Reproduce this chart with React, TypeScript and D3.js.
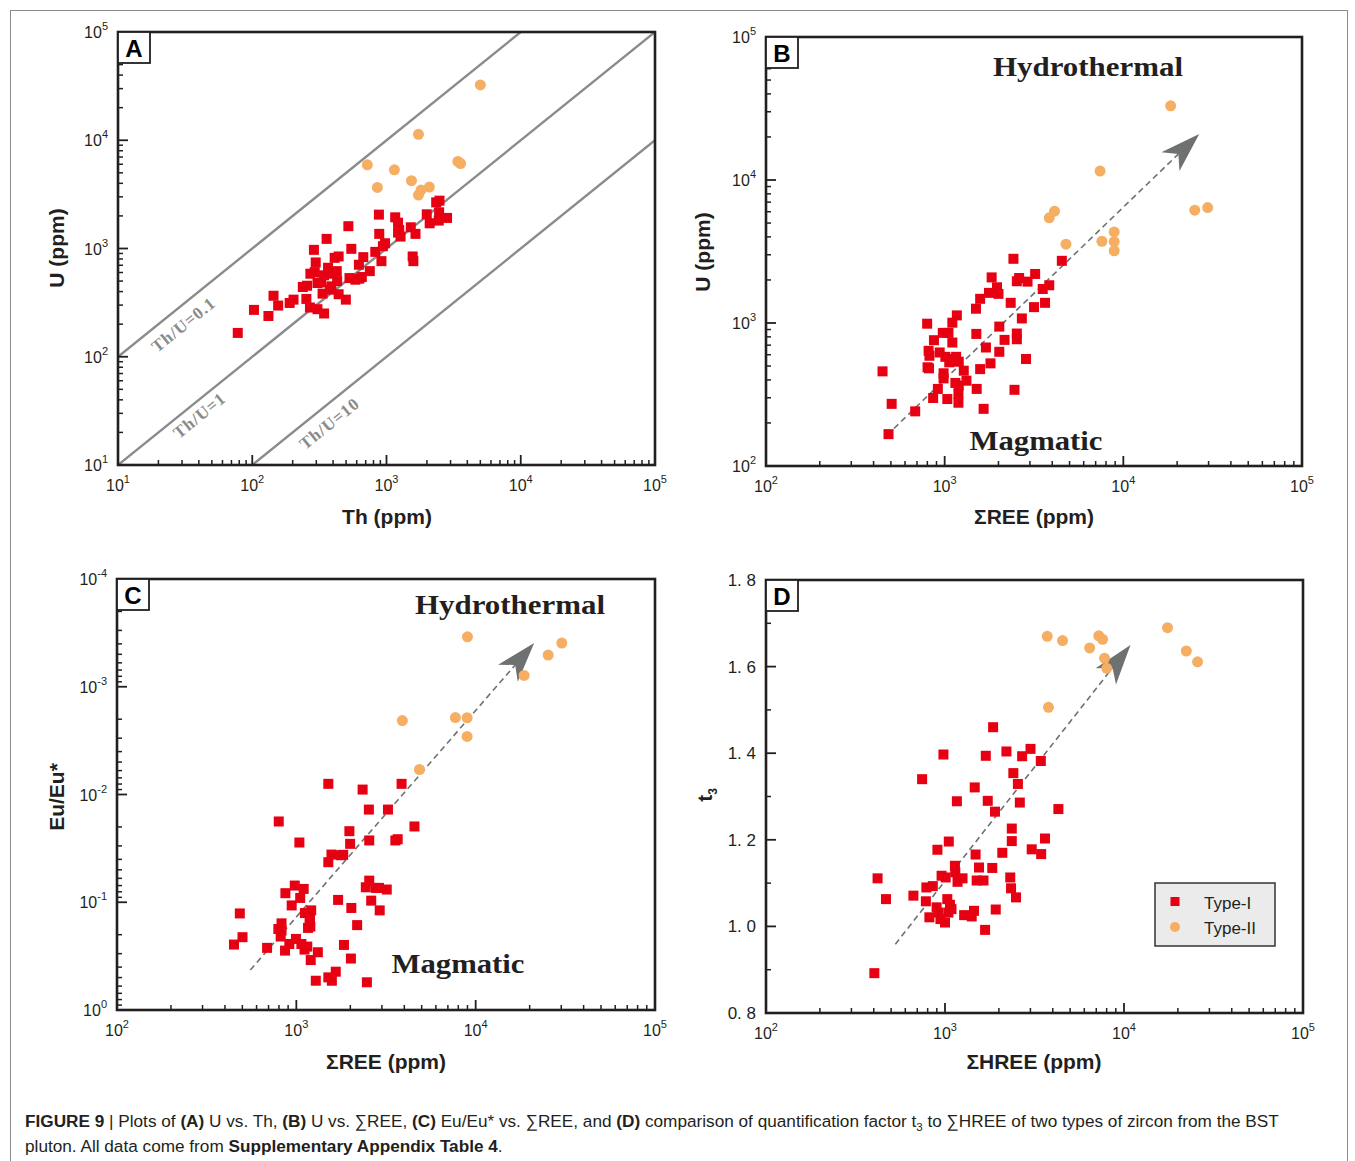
import React from "react";
import * as d3 from "d3";

type Pt = [number, number];

const RED = "#e60012";
const ORANGE = "#f5ae62";
const INK = "#231f20";
const GUIDE = "#8b8b8b";
const ARROW = "#6f7070";

// ---------- Panel A: U vs Th ----------
const thUType1: Pt[] = [
  [78, 166], [103, 271], [132, 238], [144, 366], [156, 297], [190, 314], [203, 337], [238, 441],
  [256, 453], [253, 342], [269, 285], [271, 585], [288, 972], [297, 743], [292, 605], [306, 480],
  [306, 275], [343, 251], [334, 383], [326, 486], [343, 565], [358, 1227], [367, 664], [379, 417],
  [388, 447], [403, 585], [411, 820], [429, 500], [440, 844], [426, 618], [440, 378], [498, 337],
  [520, 1607], [530, 533], [547, 993], [586, 515], [627, 526], [623, 708], [655, 545], [672, 832],
  [751, 618], [825, 931], [878, 2056], [883, 1365], [917, 764], [940, 1050], [976, 1118], [1161, 1941],
  [1219, 1733], [1244, 1485], [1219, 1403], [1273, 1289], [1516, 1571], [1566, 844], [1585, 764],
  [1644, 1365], [1995, 2070], [2098, 1710], [2345, 2667], [2481, 2767], [2466, 2159], [2449, 1811],
  [2825, 1916],
];
const thUType2: Pt[] = [
  [5000, 32400], [1730, 11350], [720, 5930], [1145, 5330], [3400, 6370], [3560, 6100],
  [1535, 4230], [855, 3665], [2085, 3690], [1807, 3465], [1730, 3120],
];
const thURatios = [0.1, 1, 10];
const thULabelText = ["Th/U=0.1", "Th/U=1", "Th/U=10"];
const thULabelAt: Pt[] = [[31, 196], [40.8, 28.4], [379, 23.9]];

// ---------- Panel B: U vs ΣREE ----------
const reeUType1: Pt[] = [
  [449, 459], [505, 272], [485, 167], [684, 241], [798, 989], [813, 639], [822, 590], [802, 490],
  [817, 482], [871, 758], [862, 299], [916, 346], [938, 622], [976, 853], [986, 445], [986, 410],
  [1009, 580], [1050, 853], [1035, 294], [1061, 531], [1104, 730], [1104, 1005], [1125, 560],
  [1159, 580], [1170, 1130], [1148, 381], [1199, 536], [1199, 365], [1194, 320], [1194, 277],
  [1279, 464], [1324, 395], [1497, 1259], [1504, 839], [1511, 346], [1580, 1476], [1580, 476],
  [1652, 251], [1702, 674], [1770, 1625], [1805, 522], [1832, 2084], [1963, 1778], [2001, 1599],
  [2022, 944], [2022, 629], [2164, 762], [2342, 1384], [2426, 2812], [2535, 1959], [2535, 844],
  [2535, 770], [2459, 341], [2611, 2063], [2704, 1076], [2853, 560], [2909, 1947], [3164, 1291],
  [3209, 2203], [3540, 1729], [3646, 1384], [3849, 1836], [4527, 2722],
];
const reeUType2: Pt[] = [
  [18400, 33000], [7410, 11550], [4120, 6050], [3849, 5440], [4775, 3555], [7585, 3730],
  [8890, 4330], [8890, 3705], [8890, 3200], [25100, 6150], [29650, 6420],
];
const reeUArrow: Pt[] = [[520, 183], [26600, 21000]];

// ---------- Panel C: Eu/Eu* vs ΣREE ----------
const reeEuType1: Pt[] = [
  [449, 0.247], [484, 0.127], [501, 0.211], [687, 0.265], [798, 0.0178], [794, 0.177], [818, 0.208],
  [827, 0.157], [827, 0.183], [869, 0.0824], [865, 0.281], [914, 0.244], [942, 0.107], [980, 0.07],
  [995, 0.219], [1040, 0.0279], [1051, 0.0912], [1067, 0.244], [1099, 0.0752], [1116, 0.126],
  [1111, 0.275], [1151, 0.258], [1162, 0.173], [1186, 0.156], [1191, 0.145], [1197, 0.168],
  [1210, 0.119], [1203, 0.344], [1284, 0.535], [1318, 0.291], [1508, 0.00796], [1508, 0.0425],
  [1508, 0.498], [1570, 0.0361], [1578, 0.535], [1659, 0.441], [1710, 0.0951], [1771, 0.0366],
  [1825, 0.0363], [1843, 0.249], [1976, 0.0219], [1995, 0.0287], [2026, 0.113], [2015, 0.333],
  [2183, 0.163], [2342, 0.009], [2440, 0.0726], [2538, 0.0138], [2550, 0.0267], [2550, 0.063],
  [2615, 0.0966], [2474, 0.553], [2775, 0.0736], [2917, 0.119], [2890, 0.0736], [3193, 0.0762],
  [3243, 0.0138], [3566, 0.0267], [3675, 0.026], [3863, 0.00796], [4557, 0.0198],
];
const reeEuType2: Pt[] = [
  [3900, 0.00206], [7710, 0.00193], [8960, 0.00194], [8960, 0.00289], [9000, 0.000344],
  [4860, 0.00586], [18620, 0.000785], [25370, 0.000508], [30220, 0.000393],
];
const reeEuArrow: Pt[] = [[554, 0.425], [21200, 0.000393]];

// ---------- Panel D: t3 vs ΣHREE ----------
const hreeT3Type1: Pt[] = [
  [403, 0.892], [420, 1.111], [468, 1.063], [666, 1.071], [745, 1.34], [782, 1.058], [787, 1.09],
  [818, 1.021], [855, 1.093], [907, 1.177], [898, 1.044], [920, 1.032], [943, 1.017], [957, 1.117],
  [980, 1.397], [1000, 1.009], [1009, 1.113], [1030, 1.063], [1045, 1.032], [1050, 1.196],
  [1066, 1.05], [1087, 1.04], [1136, 1.14], [1142, 1.125], [1165, 1.289], [1175, 1.103],
  [1253, 1.111], [1279, 1.026], [1410, 1.023], [1452, 1.036], [1466, 1.321], [1482, 1.166],
  [1503, 1.106], [1549, 1.136], [1641, 1.106], [1690, 1.394], [1733, 1.29], [1675, 0.992],
  [1837, 1.135], [1857, 1.46], [1902, 1.265], [1921, 1.039], [2090, 1.17], [2204, 1.404],
  [2315, 1.113], [2361, 1.226], [2361, 1.197], [2339, 1.088], [2409, 1.354], [2493, 1.067],
  [2554, 1.329], [2618, 1.286], [2697, 1.393], [3004, 1.41], [3051, 1.178], [3430, 1.382],
  [3446, 1.167], [3620, 1.203], [4300, 1.271],
];
const hreeT3Type2: Pt[] = [
  [3725, 1.67], [4536, 1.66], [6430, 1.643], [7230, 1.671], [7595, 1.663], [7785, 1.619],
  [8010, 1.596], [3785, 1.506], [17500, 1.69], [22290, 1.636], [25760, 1.611],
];
const hreeT3Arrow: Pt[] = [[528, 0.959], [10870, 1.65]];
const t3TickValues = [0.8, 1.0, 1.2, 1.4, 1.6, 1.8];
const t3TickLabels = ["0. 8", "1. 0", "1. 2", "1. 4", "1. 6", "1. 8"];
const t3MinorValues = [0.9, 1.1, 1.3, 1.5, 1.7];
const legendLabels = ["Type-I", "Type-II"];

// ---------- helpers ----------
const logMinor = (lo: number, hi: number) => {
  const out: number[] = [];
  for (let d = lo; d < hi; d++) for (let k = 2; k <= 9; k++) out.push(k * Math.pow(10, d));
  return out;
};
const pow10Label = (e: number) => (
  <>
    <tspan>10</tspan>
    <tspan dy={-8} fontSize={11}>{e}</tspan>
  </>
);
const range = (a: number, b: number) => d3.range(a, b + 1);

type Tick = { v: number; label: React.ReactNode };

function Frame(props: {
  x: any; y: any; x0: number; x1: number; y0: number; y1: number;
  xTicks: Tick[]; yTicks: Tick[]; xMinor: number[]; yMinor: number[];
  letter: string; yLabelSize?: number;
}) {
  const { x, y, x0, x1, y0, y1, xTicks, yTicks, xMinor, yMinor, letter } = props;
  const fs = props.yLabelSize || 16;
  return (
    <g>
      {xMinor.map((v, i) => (
        <line key={"xm" + i} x1={x(v)} x2={x(v)} y1={y1} y2={y1 - 5} stroke={INK} strokeWidth={1.5} />
      ))}
      {xTicks.map((t, i) => (
        <line key={"xt" + i} x1={x(t.v)} x2={x(t.v)} y1={y1} y2={y1 - 10} stroke={INK} strokeWidth={1.8} />
      ))}
      {yMinor.map((v, i) => (
        <line key={"ym" + i} x1={x0} x2={x0 + 5} y1={y(v)} y2={y(v)} stroke={INK} strokeWidth={1.5} />
      ))}
      {yTicks.map((t, i) => (
        <line key={"yt" + i} x1={x0} x2={x0 + 10} y1={y(t.v)} y2={y(t.v)} stroke={INK} strokeWidth={1.8} />
      ))}
      <rect x={x0} y={y0} width={x1 - x0} height={y1 - y0} fill="none" stroke={INK} strokeWidth={2.6} />
      {xTicks.map((t, i) => (
        <text key={"xl" + i} x={x(t.v)} y={y1 + 26} textAnchor="middle" fontFamily="Liberation Sans, Arial, sans-serif" fontSize={16} fill={INK}>
          {t.label}
        </text>
      ))}
      {yTicks.map((t, i) => (
        <text key={"yl" + i} x={x0 - 10} y={y(t.v) + 6} textAnchor="end" fontFamily="Liberation Sans, Arial, sans-serif" fontSize={fs} fill={INK}>
          {t.label}
        </text>
      ))}
      <rect x={x0} y={y0} width={32} height={31} fill="#fff" stroke={INK} strokeWidth={1.8} />
      <text x={x0 + 16} y={y0 + 25} textAnchor="middle" fontFamily="Liberation Sans, Arial, sans-serif" fontWeight="bold" fontSize={24} fill="#000">
        {letter}
      </text>
    </g>
  );
}

function Marks({ x, y, sq, ci }: { x: any; y: any; sq: Pt[]; ci: Pt[] }) {
  return (
    <g>
      {sq.map((d, i) => (
        <rect key={"s" + i} x={x(d[0]) - 5} y={y(d[1]) - 5} width={10} height={10} fill={RED} />
      ))}
      {ci.map((d, i) => (
        <circle key={"c" + i} cx={x(d[0])} cy={y(d[1])} r={5.5} fill={ORANGE} />
      ))}
    </g>
  );
}

function TrendArrow({ x, y, pts }: { x: any; y: any; pts: Pt[] }) {
  const sx = x(pts[0][0]), sy = y(pts[0][1]);
  const ex = x(pts[1][0]), ey = y(pts[1][1]);
  const ang = Math.atan2(ey - sy, ex - sx);
  const L = 40, W = 13, N = 29;
  const ux = Math.cos(ang), uy = Math.sin(ang);
  const px = -uy, py = ux;
  const nx = ex - ux * N, ny = ey - uy * N;
  const bx = ex - ux * L, by = ey - uy * L;
  const head = `M${ex},${ey} L${bx + px * W},${by + py * W} L${nx},${ny} L${bx - px * W},${by - py * W} Z`;
  return (
    <g>
      <line x1={sx} y1={sy} x2={nx} y2={ny} stroke={ARROW} strokeWidth={1.6} strokeDasharray="6,4" />
      <path d={head} fill={ARROW} />
    </g>
  );
}

const serifTitle = { fontFamily: "Liberation Serif, Times New Roman, serif", fontWeight: "bold" as const, fontSize: 27, fill: INK };
const axisTitle = { fontFamily: "Liberation Sans, Arial, sans-serif", fontWeight: "bold" as const, fontSize: 21, fill: INK };
const captionFont = { fontFamily: "Liberation Sans, Arial, sans-serif", fontSize: 17.2, fill: INK };

export default function App() {
  // Panel A
  const ax = d3.scaleLog().domain([10, 1e5]).range([118, 655]);
  const ay = d3.scaleLog().domain([10, 1e5]).range([465, 32]);
  // Panel B
  const bx = d3.scaleLog().domain([100, 1e5]).range([766, 1302]);
  const by = d3.scaleLog().domain([100, 1e5]).range([466, 37]);
  // Panel C
  const cx = d3.scaleLog().domain([100, 1e5]).range([117, 655]);
  const cy = d3.scaleLog().domain([1, 1e-4]).range([1010, 579]);
  // Panel D
  const dx = d3.scaleLog().domain([100, 1e5]).range([766, 1303]);
  const dy = d3.scaleLinear().domain([0.8, 1.8]).range([1013, 580]);

  const decTicks = (a: number, b: number) => range(a, b).map((e) => ({ v: Math.pow(10, e), label: pow10Label(e) }));

  const aAngle = (Math.atan2(ay(1e4) - ay(1e3), ax(1e4) - ax(1e3)) * 180) / Math.PI;

  return (
    <svg width={1355} height={1161} style={{ position: "absolute", left: 0, top: 0, background: "#fff" }}>
      <rect x={0} y={0} width={1355} height={1161} fill="#fff" />
      <rect x={10.5} y={10.5} width={1337} height={1170} fill="none" stroke="#8a8a8a" strokeWidth={1} />
      <defs>
        <clipPath id="clipA">
          <rect x={118} y={32} width={537} height={433} />
        </clipPath>
      </defs>

      {/* Panel A */}
      <g clipPath="url(#clipA)">
        {thURatios.map((r, i) => (
          <line key={i} x1={ax(10)} y1={ay(10 / r)} x2={ax(1e5)} y2={ay(1e5 / r)} stroke={GUIDE} strokeWidth={2.4} />
        ))}
      </g>
      {thULabelText.map((t, i) => (
        <text key={i} transform={`translate(${ax(thULabelAt[i][0])},${ay(thULabelAt[i][1])}) rotate(${aAngle})`}
          textAnchor="middle" dy={5} fontFamily="Liberation Serif, Times New Roman, serif" fontWeight="bold" fontSize={17} letterSpacing={1} fill={GUIDE}>
          {t}
        </text>
      ))}
      <Marks x={ax} y={ay} sq={thUType1} ci={thUType2} />
      <Frame x={ax} y={ay} x0={118} x1={655} y0={32} y1={465}
        xTicks={decTicks(1, 5)} yTicks={decTicks(1, 5)} xMinor={logMinor(1, 5)} yMinor={logMinor(1, 5)} letter="A" />
      <text x={387} y={524} textAnchor="middle" {...axisTitle}>Th (ppm)</text>
      <text transform="translate(64,248) rotate(-90)" textAnchor="middle" {...axisTitle}>U (ppm)</text>

      {/* Panel B */}
      <TrendArrow x={bx} y={by} pts={reeUArrow} />
      <Marks x={bx} y={by} sq={reeUType1} ci={reeUType2} />
      <Frame x={bx} y={by} x0={766} x1={1302} y0={37} y1={466}
        xTicks={decTicks(2, 5)} yTicks={decTicks(2, 5)} xMinor={logMinor(2, 5)} yMinor={logMinor(2, 5)} letter="B" />
      <text x={1088} y={76} textAnchor="middle" textLength={190} lengthAdjust="spacingAndGlyphs" {...serifTitle}>Hydrothermal</text>
      <text x={1036} y={450} textAnchor="middle" textLength={133} lengthAdjust="spacingAndGlyphs" {...serifTitle}>Magmatic</text>
      <text x={1034} y={524} textAnchor="middle" {...axisTitle}>ΣREE (ppm)</text>
      <text transform="translate(710,252) rotate(-90)" textAnchor="middle" {...axisTitle}>U (ppm)</text>

      {/* Panel C */}
      <TrendArrow x={cx} y={cy} pts={reeEuArrow} />
      <Marks x={cx} y={cy} sq={reeEuType1} ci={reeEuType2} />
      <Frame x={cx} y={cy} x0={117} x1={655} y0={579} y1={1010}
        xTicks={decTicks(2, 5)} yTicks={range(-4, 0).map((e) => ({ v: Math.pow(10, e), label: pow10Label(e) }))}
        xMinor={logMinor(2, 5)} yMinor={logMinor(-4, 0)} letter="C" />
      <text x={510} y={614} textAnchor="middle" textLength={190} lengthAdjust="spacingAndGlyphs" {...serifTitle}>Hydrothermal</text>
      <text x={458} y={973} textAnchor="middle" textLength={133} lengthAdjust="spacingAndGlyphs" {...serifTitle}>Magmatic</text>
      <text x={386} y={1069} textAnchor="middle" {...axisTitle}>ΣREE (ppm)</text>
      <text transform="translate(64,797) rotate(-90)" textAnchor="middle" {...axisTitle}>Eu/Eu*</text>

      {/* Panel D */}
      <TrendArrow x={dx} y={dy} pts={hreeT3Arrow} />
      <Marks x={dx} y={dy} sq={hreeT3Type1} ci={hreeT3Type2} />
      <Frame x={dx} y={dy} x0={766} x1={1303} y0={580} y1={1013}
        xTicks={decTicks(2, 5)} yTicks={t3TickValues.map((v, i) => ({ v, label: t3TickLabels[i] }))}
        xMinor={logMinor(2, 5)} yMinor={t3MinorValues} letter="D" yLabelSize={17} />
      <text x={1034} y={1069} textAnchor="middle" {...axisTitle}>ΣHREE (ppm)</text>
      <text transform="translate(712,795) rotate(-90)" textAnchor="middle" {...axisTitle}>
        <tspan>t</tspan>
        <tspan dy={5} fontSize={12}>3</tspan>
      </text>
      <g>
        <rect x={1155} y={883} width={120} height={63} fill="#ebebeb" stroke="#333" strokeWidth={1.5} />
        <rect x={1170.5} y={897} width={9} height={9} fill={RED} />
        <circle cx={1175} cy={927} r={5} fill={ORANGE} />
        {legendLabels.map((t, i) => (
          <text key={i} x={1204} y={909 + i * 25} fontFamily="Liberation Sans, Arial, sans-serif" fontSize={17} fill={INK}>{t}</text>
        ))}
      </g>

      {/* Caption */}
      <text x={25} y={1127} {...captionFont}>
        <tspan fontWeight="bold">FIGURE 9</tspan>
        <tspan> | Plots of </tspan>
        <tspan fontWeight="bold">(A)</tspan>
        <tspan> U vs. Th, </tspan>
        <tspan fontWeight="bold">(B)</tspan>
        <tspan> U vs. ∑REE, </tspan>
        <tspan fontWeight="bold">(C)</tspan>
        <tspan> Eu/Eu* vs. ∑REE, and </tspan>
        <tspan fontWeight="bold">(D)</tspan>
        <tspan> comparison of quantification factor t</tspan>
        <tspan dy={4} fontSize={11.5}>3</tspan>
        <tspan dy={-4}> to ∑HREE of two types of zircon from the BST</tspan>
      </text>
      <text x={25} y={1152} {...captionFont}>
        <tspan>pluton. All data come from </tspan>
        <tspan fontWeight="bold">Supplementary Appendix Table 4</tspan>
        <tspan>.</tspan>
      </text>
    </svg>
  );
}
